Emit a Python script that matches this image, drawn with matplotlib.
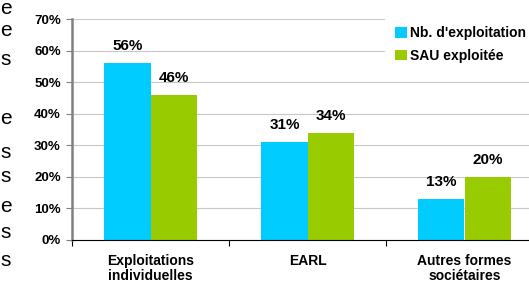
import numpy as np
import matplotlib.pyplot as plt

plt.rcParams['font.family'] = ['Liberation Sans', 'DejaVu Sans']

categories = ["Exploitations\nindividuelles", "EARL", "Autres formes\nsociétaires"]
nb_exploit = [56, 31, 13]
sau = [46, 34, 20]
series_names = ["Nb. d'exploitation", "SAU exploitée"]
colors = ["#00CCFF", "#99CC00"]
yticks = [0, 10, 20, 30, 40, 50, 60, 70]
# letters of the neighbouring page text visible on the left edge (pixel rows)
margin_letters = ["e", "e", "s", "e", "s", "s", "e", "s", "s"]
margin_rows = [8, 31, 60, 119, 152, 177, 206, 232, 260]

fig = plt.figure(figsize=(5.29, 2.84), dpi=100)
W, H = 529, 284
# axes spans x 72 -> 543 px (right part falls off the page), y 19 -> 240 px
ax = fig.add_axes([72 / W, 1 - 240 / H, (543 - 72) / W, (240 - 19) / H])

x = np.arange(len(categories))
w = 0.293
b1 = ax.bar(x - w / 2, nb_exploit, w, color=colors[0], label=series_names[0], zorder=2)
b2 = ax.bar(x + w / 2, sau, w, color=colors[1], label=series_names[1], zorder=2)

for bars, vals in ((b1, nb_exploit), (b2, sau)):
    for r, v in zip(bars, vals):
        ax.annotate(f"{v}%", (r.get_x() + r.get_width() / 2, v), xytext=(0, 7),
                    textcoords="offset points", ha="center", va="bottom",
                    fontsize=11, fontweight="bold")

ax.set_xlim(-0.5, 2.5)
ax.set_ylim(0, 70)
ax.set_yticks(yticks)
ax.set_yticklabels([f"{t}%" for t in yticks], fontsize=9.5, fontweight="bold")
ax.yaxis.grid(True, color="#c8c8c8", linewidth=0.8, zorder=0)
ax.set_axisbelow(True)

ax.set_xticks([-0.5, 0.5, 1.5, 2.5])
ax.set_xticklabels([])
ax.set_xticks(x, minor=True)
ax.set_xticklabels(categories, minor=True, fontsize=10, fontweight="bold", linespacing=1.1)
ax.tick_params(axis="x", which="minor", length=0, pad=10)
ax.tick_params(axis="x", which="major", length=4, width=0.8, direction="out")
ax.tick_params(axis="y", length=4, width=0.8, color="#808080", pad=4)

for s in ("top", "right"):
    ax.spines[s].set_visible(False)
ax.spines["left"].set_color("#808080")
ax.spines["left"].set_linewidth(1.8)
ax.spines["bottom"].set_color("black")
ax.spines["bottom"].set_linewidth(0.8)

leg = fig.legend(loc="upper left", bbox_to_anchor=(385 / W, 1 - 16 / H), frameon=True,
                 prop={"weight": "bold", "size": 10}, handlelength=0.8,
                 handleheight=0.8, handletextpad=0.25, labelspacing=0.6,
                 borderpad=0.75, borderaxespad=0)
leg.get_frame().set_edgecolor("white")
leg.get_frame().set_facecolor("white")
leg.get_frame().set_alpha(1)

for ch, row in zip(margin_letters, margin_rows):
    fig.text(0, 1 - row / H, ch, fontsize=15, ha="left", va="center")

fig.savefig("out.png", dpi=100)
